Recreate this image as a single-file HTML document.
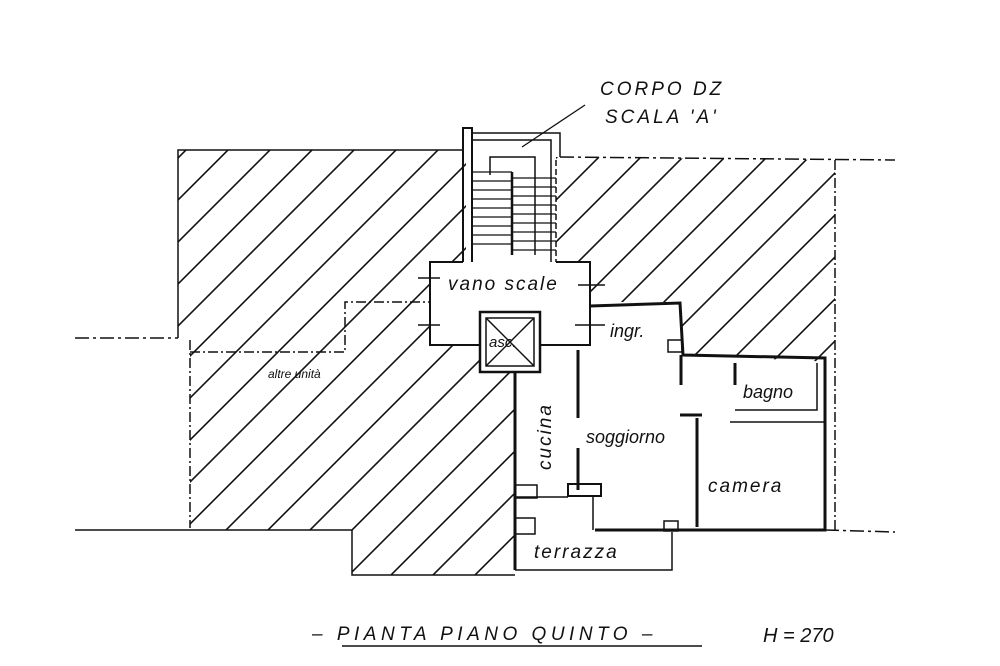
<!DOCTYPE html>
<html><head><meta charset="utf-8"><style>
html,body{margin:0;padding:0;background:#fff;}
svg{display:block;}
text{font-family:"Liberation Sans",sans-serif;font-style:italic;fill:#111;}
</style></head><body>
<svg width="1000" height="666" viewBox="0 0 1000 666" xmlns="http://www.w3.org/2000/svg">
<defs>
<pattern id="h" patternUnits="userSpaceOnUse" width="42" height="42">
<line x1="-2" y1="44" x2="44" y2="-2" stroke="#111" stroke-width="1.6"/>
<line x1="-44" y1="44" x2="2" y2="-2" stroke="#111" stroke-width="1.6"/>
<line x1="40" y1="44" x2="86" y2="-2" stroke="#111" stroke-width="1.6"/>
</pattern>
</defs>
<rect width="1000" height="666" fill="#fff"/>
<polygon points="178,150 466,150 466,262 430,262 430,345 480,345 480,372 515,372 515,575 352,575 352,530 190,530 190,338 178,338" fill="url(#h)"/>
<polygon points="556,157 835,160 835,362 680,355 680,302 590,302 590,262 556,262" fill="url(#h)"/>
<g fill="none" stroke="#111" stroke-width="1.5">
<polyline points="178,338 178,150 463,150"/>
<polyline points="560,157 895,160" stroke-dasharray="14,4,3,4"/>
<line x1="835" y1="160" x2="835" y2="530" stroke-dasharray="10,3,2,3"/>
<polyline points="75,338 178,338" stroke-dasharray="14,4,3,4"/>
<line x1="190" y1="340" x2="190" y2="528" stroke-dasharray="10,3,2,3"/>
<polyline points="75,530 352,530 352,575 515,575"/>
<polyline points="825,530 895,532" stroke-dasharray="14,4,3,4"/>
<polyline points="190,352 345,352 345,302 430,302" stroke-dasharray="10,3,2,3"/>
<polyline points="463,262 463,128 472,128 472,262" stroke-width="2"/>
<polyline points="472,133 560,133 560,157"/>
<polyline points="472,140 551,140 551,262"/>
<line x1="556" y1="160" x2="556" y2="262" stroke-dasharray="6,3"/>
<polyline points="490,175 490,157 535,157 535,255"/>
<line x1="512" y1="172" x2="512" y2="255" stroke-width="2.5"/>
<g stroke-width="1.2">
<line x1="471" y1="172" x2="512" y2="172"/><line x1="471" y1="181" x2="512" y2="181"/><line x1="471" y1="190" x2="512" y2="190"/><line x1="471" y1="199" x2="512" y2="199"/><line x1="471" y1="208" x2="512" y2="208"/><line x1="471" y1="217" x2="512" y2="217"/><line x1="471" y1="226" x2="512" y2="226"/><line x1="471" y1="235" x2="512" y2="235"/><line x1="471" y1="244" x2="512" y2="244"/>
<line x1="512" y1="178" x2="556" y2="178"/><line x1="512" y1="187" x2="556" y2="187"/><line x1="512" y1="196" x2="556" y2="196"/><line x1="512" y1="205" x2="556" y2="205"/><line x1="512" y1="214" x2="556" y2="214"/><line x1="512" y1="223" x2="556" y2="223"/><line x1="512" y1="232" x2="556" y2="232"/><line x1="512" y1="241" x2="556" y2="241"/><line x1="512" y1="250" x2="556" y2="250"/>
</g>
<polyline points="463,262 430,262 430,345 480,345" stroke-width="2"/>
<polyline points="556,262 590,262 590,345 578,345 540,345" stroke-width="2"/>
<line x1="418" y1="278" x2="440" y2="278"/><line x1="418" y1="325" x2="440" y2="325"/>
<line x1="578" y1="285" x2="605" y2="285"/><line x1="575" y1="325" x2="605" y2="325"/>
<rect x="480" y="312" width="60" height="60" stroke-width="2.5"/>
<rect x="486" y="318" width="48" height="48"/>
<line x1="486" y1="318" x2="534" y2="366"/><line x1="534" y1="318" x2="486" y2="366"/>
<polyline points="590,306 680,303 683,355 825,358 825,530 595,530" stroke-width="3"/>
<line x1="515" y1="372" x2="515" y2="570" stroke-width="3"/>
<polyline points="515,570 672,570 672,532" stroke-width="1.5"/>
<rect x="668" y="340" width="14" height="12"/>
<line x1="681" y1="355" x2="681" y2="385" stroke-width="3"/>
<line x1="578" y1="350" x2="578" y2="418" stroke-width="3"/>
<line x1="578" y1="448" x2="578" y2="490" stroke-width="3"/>
<rect x="568" y="484" width="33" height="12" stroke-width="2"/>
<line x1="515" y1="497" x2="568" y2="497"/>
<rect x="515" y="485" width="22" height="13"/>
<rect x="515" y="518" width="20" height="16"/>
<line x1="593" y1="497" x2="593" y2="530"/>
<line x1="697" y1="418" x2="697" y2="527" stroke-width="3"/>
<line x1="680" y1="415" x2="702" y2="415" stroke-width="3"/>
<polyline points="735,363 735,385" stroke-width="3"/>
<polyline points="735,410 817,410 817,363" stroke-width="1.5"/>
<line x1="730" y1="422" x2="825" y2="422" stroke-width="1.5"/>
<rect x="664" y="521" width="14" height="10"/>
</g>
<line x1="522" y1="147" x2="585" y2="105" stroke="#111" stroke-width="1.3"/>
<text x="600" y="95" font-size="19" letter-spacing="3">CORPO  DZ</text>
<text x="605" y="123" font-size="19" letter-spacing="3">SCALA  'A'</text>
<text x="448" y="290" font-size="19" letter-spacing="2">vano  scale</text>
<text x="489" y="347" font-size="15">asc.</text>
<text x="610" y="337" font-size="18">ingr.</text>
<text x="743" y="398" font-size="18">bagno</text>
<text x="586" y="443" font-size="18">soggiorno</text>
<text x="708" y="492" font-size="19" letter-spacing="2">camera</text>
<text x="534" y="558" font-size="19" letter-spacing="2">terrazza</text>
<text transform="translate(551,470) rotate(-90)" font-size="19" letter-spacing="2">cucina</text>
<text x="268" y="378" font-size="12" fill="#555">altre unità</text>
<text x="312" y="640" font-size="19" letter-spacing="4.5">– PIANTA  PIANO QUINTO  –</text>
<line x1="342" y1="646" x2="702" y2="646" stroke="#111" stroke-width="1.5"/>
<text x="763" y="642" font-size="20">H = 270</text>
</svg>
</body></html>
